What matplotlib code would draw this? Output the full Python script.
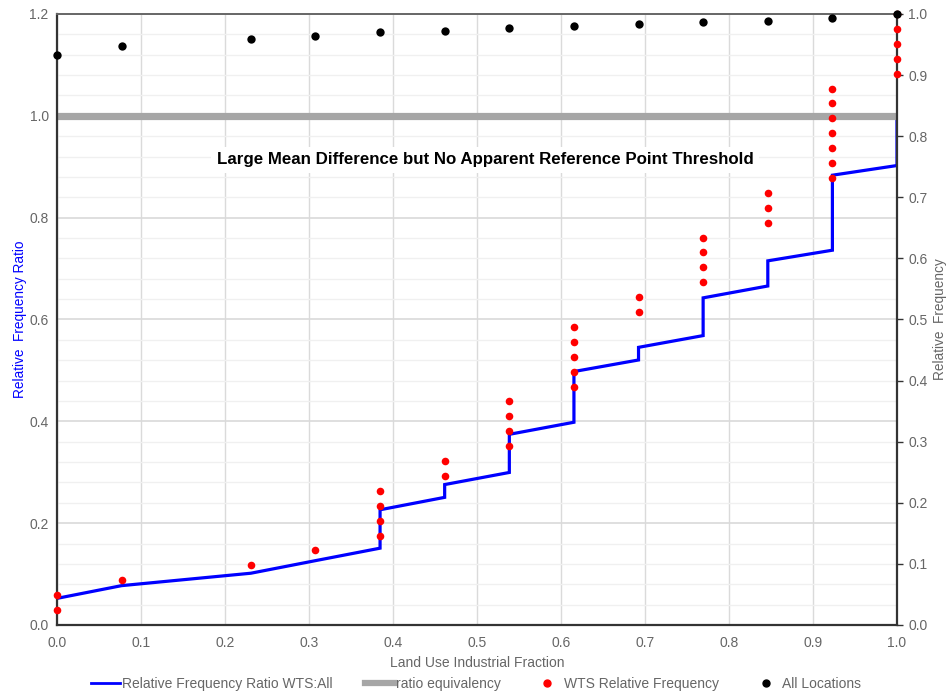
import matplotlib
matplotlib.use("Agg")
import matplotlib.pyplot as plt
from matplotlib.ticker import MultipleLocator, FormatStrFormatter
from matplotlib.lines import Line2D

plt.rcParams['font.family'] = ['Liberation Sans', 'DejaVu Sans']

# All Locations (right axis, relative frequency)
all_x = [0.0, 0.0769, 0.2308, 0.3077, 0.3846, 0.4615, 0.5385, 0.6154, 0.6923, 0.7692, 0.8462, 0.9231, 1.0]
all_y = [0.933, 0.947, 0.959, 0.9645, 0.970, 0.9727, 0.977, 0.980, 0.984, 0.987, 0.989, 0.994, 1.0]

# WTS Relative Frequency (right axis)
wts_x = [0.0, 0.0,
         0.0769, 0.2308, 0.3077,
         0.3846, 0.3846, 0.3846, 0.3846,
         0.4615, 0.4615,
         0.5385, 0.5385, 0.5385, 0.5385,
         0.6154, 0.6154, 0.6154, 0.6154, 0.6154,
         0.6923, 0.6923,
         0.7692, 0.7692, 0.7692, 0.7692,
         0.8462, 0.8462, 0.8462,
         0.9231, 0.9231, 0.9231, 0.9231, 0.9231, 0.9231, 0.9231,
         1.0, 1.0, 1.0, 1.0, 1.0]
wts_y = [0.0244, 0.0488,
         0.0732, 0.0976, 0.1220,
         0.1463, 0.1707, 0.1951, 0.2195,
         0.2439, 0.2683,
         0.2927, 0.3171, 0.3415, 0.3659,
         0.3902, 0.4146, 0.4390, 0.4634, 0.4878,
         0.5122, 0.5366,
         0.5610, 0.5854, 0.6098, 0.6341,
         0.6585, 0.6829, 0.7073,
         0.7317, 0.7561, 0.7805, 0.8049, 0.8293, 0.8537, 0.8780,
         0.9024, 0.9268, 0.9512, 0.9756, 1.0]

# Relative Frequency Ratio WTS:All (left axis)
ratio_x = [0.0,
           0.0769, 0.2308, 0.3077,
           0.3846, 0.3846, 0.3846, 0.3846,
           0.4615, 0.4615,
           0.5385, 0.5385, 0.5385, 0.5385,
           0.6154, 0.6154, 0.6154, 0.6154, 0.6154,
           0.6923, 0.6923,
           0.7692, 0.7692, 0.7692, 0.7692,
           0.8462, 0.8462, 0.8462,
           0.9231, 0.9231, 0.9231, 0.9231, 0.9231, 0.9231, 0.9231,
           1.0, 1.0, 1.0, 1.0, 1.0]
ratio_y = [0.0523,
           0.0773, 0.1017, 0.1264,
           0.1509, 0.1760, 0.2012, 0.2263,
           0.2507, 0.2758,
           0.2996, 0.3245, 0.3495, 0.3745,
           0.3982, 0.4231, 0.4480, 0.4729, 0.4978,
           0.5205, 0.5453,
           0.5684, 0.5931, 0.6178, 0.6425,
           0.6658, 0.6905, 0.7152,
           0.7361, 0.7607, 0.7852, 0.8097, 0.8343, 0.8588, 0.8834,
           0.9024, 0.9268, 0.9512, 0.9756, 1.0]

equiv_x = [0.0, 1.0]
equiv_y = [1.0, 1.0]

title_text = "Large Mean Difference but No Apparent Reference Point Threshold"

fig = plt.figure(figsize=(9.46, 6.93), dpi=100)
ax = fig.add_axes([57/946, 1-625/693, 840/946, 611/693])
ax2 = ax.twinx()

tick_col = '#666666'

ax.set_xlim(0, 1.0)
ax.set_ylim(0, 1.2)
ax2.set_ylim(0, 1.0)

ax.xaxis.set_major_locator(MultipleLocator(0.1))
ax.yaxis.set_major_locator(MultipleLocator(0.2))
ax.yaxis.set_minor_locator(MultipleLocator(0.04))
ax2.yaxis.set_major_locator(MultipleLocator(0.1))

ax.grid(which='major', axis='x', color='#dadada', lw=1.0, zorder=0)
ax.grid(which='major', axis='y', color='#d9d9d9', lw=1.2, zorder=0)
ax.grid(which='minor', axis='y', color='#f0f0f0', lw=1.0, zorder=0)
ax.set_axisbelow(True)

ax.tick_params(axis='both', which='both', length=0, colors=tick_col, labelsize=10, pad=6)
ax.tick_params(axis='x', pad=8)
ax2.tick_params(axis='y', length=4, width=1, colors=tick_col, labelsize=10, pad=4)
ax2.tick_params(axis='y', color='#333333')

ax.xaxis.set_major_formatter(FormatStrFormatter('%.1f'))
ax.yaxis.set_major_formatter(FormatStrFormatter('%.1f'))
ax2.yaxis.set_major_formatter(FormatStrFormatter('%.1f'))

for s in ['left', 'bottom', 'right']:
    ax2.spines[s].set_color('#333333')
    ax2.spines[s].set_linewidth(1.6)
ax2.spines['top'].set_color('#666666')
ax2.spines['top'].set_linewidth(1.4)
for s in ax.spines.values():
    s.set_visible(False)

ax.plot(ratio_x, ratio_y, color='#0000ff', lw=2.3, zorder=3, solid_joinstyle='miter')
ax.plot(equiv_x, equiv_y, color='#a6a6a6', lw=5.2, zorder=4, solid_capstyle='butt')

ax2.scatter(wts_x, wts_y, s=30, color='#ff0000', zorder=5, clip_on=False, linewidths=0)
ax2.scatter(all_x, all_y, s=36, color='#000000', zorder=6, clip_on=False, linewidths=0)

ax.set_zorder(1)
ax2.set_zorder(2)
ax2.patch.set_visible(False)

ax.text(0.51, 0.914, title_text, ha='center', va='center', fontsize=12.2, fontweight='bold',
        color='black', transform=ax.transData,
        bbox=dict(facecolor='white', edgecolor='none', pad=4), zorder=4)

ax.set_xlabel('Land Use Industrial Fraction', color=tick_col, fontsize=10, labelpad=4)
ax.set_ylabel('Relative  Frequency Ratio', color='#0000ff', fontsize=9.8, labelpad=2)
ax2.set_ylabel('Relative  Frequency', color=tick_col, fontsize=9.8, labelpad=4)

handles = [
    Line2D([], [], color='#0000ff', lw=2),
    Line2D([], [], color='#a6a6a6', lw=4.5),
    Line2D([], [], color='#ff0000', marker='o', ls='none', markersize=5),
    Line2D([], [], color='#000000', marker='o', ls='none', markersize=5),
]
labels = ['Relative Frequency Ratio WTS:All', 'ratio equivalency', 'WTS Relative Frequency', 'All Locations']
leg = fig.legend(handles, labels, loc='center', bbox_to_anchor=(476/946, 1-684/693), ncol=4,
                 frameon=False, fontsize=10, handlelength=2.1, handletextpad=0.15,
                 columnspacing=2.3, labelcolor=tick_col, borderpad=0, borderaxespad=0)

fig.savefig('out.png', dpi=100)
